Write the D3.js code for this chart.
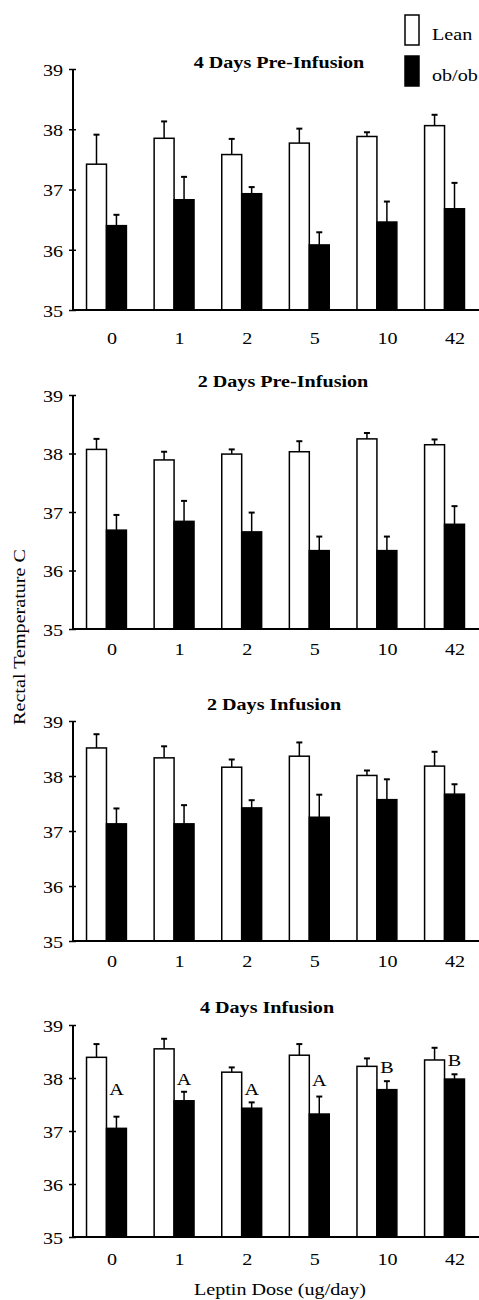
<!DOCTYPE html>
<html>
<head>
<meta charset="utf-8">
<script src="https://cdn.jsdelivr.net/npm/d3@7"></script>
<style>
  body { margin: 0; background: #fff; }
  svg { display: block; }
  text { font-family: "Liberation Serif", "Times New Roman", serif; fill: #000; }
</style>
</head>
<body>
<svg id="chart" width="479" height="1300"></svg>
<script>
// Data
const doses = ["0", "1", "2", "5", "10", "42"];
const series = ["Lean", "ob/ob"];
const yTicks = [35, 36, 37, 38, 39];

const panelTitles = ["4 Days Pre-Infusion", "2 Days Pre-Infusion", "2 Days Infusion", "4 Days Infusion"];

const leanPre4 = [37.42, 37.85, 37.58, 37.77, 37.88, 38.06];
const leanPre4Sem = [0.49, 0.28, 0.26, 0.24, 0.07, 0.18];
const obPre4 = [36.40, 36.83, 36.93, 36.08, 36.46, 36.68];
const obPre4Sem = [0.18, 0.38, 0.11, 0.21, 0.34, 0.43];

const leanPre2 = [38.07, 37.89, 37.99, 38.03, 38.25, 38.15];
const leanPre2Sem = [0.18, 0.14, 0.08, 0.18, 0.10, 0.09];
const obPre2 = [36.69, 36.84, 36.66, 36.34, 36.34, 36.79];
const obPre2Sem = [0.26, 0.35, 0.33, 0.24, 0.24, 0.31];

const leanInf2 = [38.51, 38.33, 38.16, 38.36, 38.01, 38.18];
const leanInf2Sem = [0.25, 0.21, 0.14, 0.25, 0.09, 0.26];
const obInf2 = [37.13, 37.13, 37.42, 37.25, 37.57, 37.67];
const obInf2Sem = [0.28, 0.34, 0.14, 0.41, 0.37, 0.18];

const leanInf4 = [38.39, 38.55, 38.11, 38.43, 38.22, 38.34];
const leanInf4Sem = [0.25, 0.19, 0.09, 0.21, 0.15, 0.23];
const obInf4 = [37.05, 37.57, 37.43, 37.32, 37.78, 37.98];
const obInf4Sem = [0.22, 0.17, 0.11, 0.33, 0.16, 0.09];

// significance letters above ob/ob bars (4 days infusion only)
const inf4Letters = ["A", "A", "A", "A", "B", "B"];
const inf4LetterAt = [37.68, 37.87, 37.67, 37.85, 38.09, 38.22];

const panels = [
  { title: panelTitles[0], lean: leanPre4, leanSem: leanPre4Sem, ob: obPre4, obSem: obPre4Sem },
  { title: panelTitles[1], lean: leanPre2, leanSem: leanPre2Sem, ob: obPre2, obSem: obPre2Sem },
  { title: panelTitles[2], lean: leanInf2, leanSem: leanInf2Sem, ob: obInf2, obSem: obInf2Sem },
  { title: panelTitles[3], lean: leanInf4, leanSem: leanInf4Sem, ob: obInf4, obSem: obInf4Sem,
    letters: inf4Letters, letterAt: inf4LetterAt }
];

// Layout
const fontSize = 17.5;
const stretch = 1.15; // glyphs in the scan are a little wide
const axisX = 73;
const rightX = 478;
const layout = [
  { top: 69, bottom: 310, titleX: 279, titleY: 68, labelDy: 34 },
  { top: 395, bottom: 629, titleX: 283, titleY: 387, labelDy: 26 },
  { top: 721, bottom: 941, titleX: 274, titleY: 710, labelDy: 26 },
  { top: 1025, bottom: 1237, titleX: 267, titleY: 1013, labelDy: 28 }
];

const svg = d3.select("#chart");

const x = d3.scaleBand()
  .domain(doses)
  .range([axisX, rightX])
  .paddingInner(0.41)
  .paddingOuter(0.2);

const xs = d3.scaleBand()
  .domain(series)
  .range([0, x.bandwidth()]);

const wideText = (sel, tx, ty) =>
  sel.attr("transform", `translate(${tx},${ty}) scale(${stretch},1)`)
    .style("font-size", `${fontSize}px`);

panels.forEach((p, i) => {
  const L = layout[i];
  const y = d3.scaleLinear().domain([35, 39]).range([L.bottom, L.top]);
  const g = svg.append("g");

  // title
  g.append("text")
    .call(wideText, L.titleX, L.titleY)
    .attr("text-anchor", "middle")
    .style("font-weight", "bold")
    .text(p.title);

  const rows = doses.map((d, j) => [
    { dose: d, key: "Lean", v: p.lean[j], sem: p.leanSem[j] },
    { dose: d, key: "ob/ob", v: p.ob[j], sem: p.obSem[j] }
  ]).flat();

  // error bars (upper only)
  const err = g.append("g").attr("stroke", "#000");
  rows.forEach(r => {
    const cx = x(r.dose) + xs(r.key) + xs.bandwidth() / 2;
    err.append("line")
      .attr("x1", cx).attr("x2", cx)
      .attr("y1", y(r.v)).attr("y2", y(r.v + r.sem))
      .attr("stroke-width", 1.5);
    err.append("line")
      .attr("x1", cx - 3).attr("x2", cx + 3)
      .attr("y1", y(r.v + r.sem)).attr("y2", y(r.v + r.sem))
      .attr("stroke-width", 2);
  });

  // bars
  g.selectAll(".bar")
    .data(rows)
    .enter()
    .append("rect")
    .attr("class", "bar")
    .attr("x", d => x(d.dose) + xs(d.key))
    .attr("y", d => y(d.v))
    .attr("width", xs.bandwidth())
    .attr("height", d => y(35) - y(d.v))
    .attr("fill", d => d.key === "Lean" ? "#fff" : "#000")
    .attr("stroke", "#000")
    .attr("stroke-width", 1.5);

  // letters
  if (p.letters) {
    g.selectAll(".letter")
      .data(doses)
      .enter()
      .append("text")
      .attr("class", "letter")
      .each(function (d, j) {
        d3.select(this).call(wideText, x(d) + xs("ob/ob") + xs.bandwidth() / 2, y(p.letterAt[j]));
      })
      .attr("text-anchor", "middle")
      .text((d, j) => p.letters[j]);
  }

  // y axis
  const ya = g.append("g")
    .attr("transform", `translate(${axisX},0)`)
    .call(d3.axisLeft(y).tickValues(yTicks).tickSize(4).tickFormat(d3.format("d")));
  ya.select(".domain").attr("stroke-width", 2).attr("d", `M0,${L.bottom}V${L.top}`);
  ya.selectAll(".tick line").attr("x1", 3).attr("stroke-width", 1.5);
  ya.selectAll(".tick text")
    .attr("x", -10 / stretch)
    .attr("dy", "0.36em")
    .attr("transform", `scale(${stretch},1)`)
    .style("font-size", `${fontSize}px`)
    .style("font-family", "'Liberation Serif', 'Times New Roman', serif");

  // x axis baseline
  g.append("line")
    .attr("x1", axisX).attr("x2", rightX + 1)
    .attr("y1", y(35)).attr("y2", y(35))
    .attr("stroke", "#000")
    .attr("stroke-width", 2);

  // x tick labels (left-aligned at the group centre, as in the original)
  const xa = g.append("g")
    .attr("transform", `translate(0,${L.bottom})`)
    .call(d3.axisBottom(x).tickSize(0));
  xa.select(".domain").remove();
  xa.selectAll(".tick text")
    .attr("y", L.labelDy).attr("dy", 0)
    .attr("text-anchor", "start")
    .attr("transform", `translate(0.5,0) scale(${stretch},1)`)
    .style("font-size", `${fontSize}px`)
    .style("font-family", "'Liberation Serif', 'Times New Roman', serif");
});

// y axis label
svg.append("text")
  .attr("transform", `translate(25,637) rotate(-90) scale(${stretch},1)`)
  .attr("text-anchor", "middle")
  .style("font-size", `${fontSize}px`)
  .text("Rectal Temperature C");

// x axis label
svg.append("text")
  .call(wideText, 280, 1295)
  .attr("text-anchor", "middle")
  .text("Leptin Dose (ug/day)");

// legend
const legend = svg.append("g");
series.forEach((s, i) => {
  legend.append("rect")
    .attr("x", 405).attr("y", 15 + i * 41)
    .attr("width", 14).attr("height", 30)
    .attr("fill", i === 0 ? "#fff" : "#000")
    .attr("stroke", "#000")
    .attr("stroke-width", 1.5);
  legend.append("text")
    .call(wideText, 432, 40 + i * 41)
    .text(s);
});
</script>
</body>
</html>
